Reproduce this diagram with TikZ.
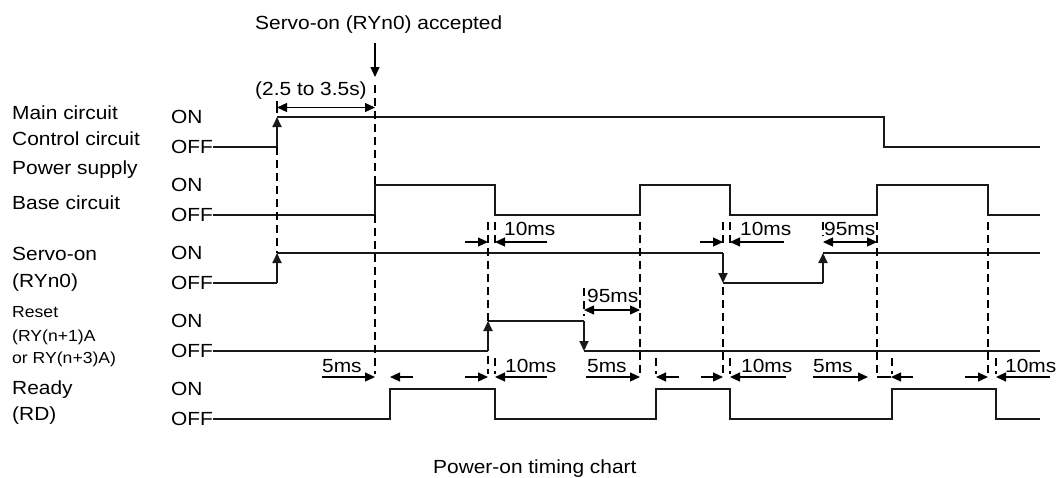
\documentclass[tikz,border=0pt]{standalone}
\usepackage{fontspec}
\setmainfont{Liberation Sans}[FakeStretch=1.1]
\usetikzlibrary{arrows.meta}
\begin{document}
\begin{tikzpicture}[x=1pt,y=-1pt,
  >={Triangle[length=10pt,width=9pt]},
  sig/.style={line width=1.8pt, line join=miter, color=black!90},
  dsh/.style={line width=1.2pt, dash pattern=on 8pt off 5pt},
  dim/.style={line width=1.2pt},
  lbl/.style={anchor=base west, inner sep=0pt, font=\fontsize{19}{22}\selectfont},
  sml/.style={anchor=base west, inner sep=0pt, font=\fontsize{16}{19}\selectfont},
  lvl/.style={anchor=west, inner sep=0pt, font=\fontsize{19}{22}\selectfont}]
\useasboundingbox (0,0) rectangle (1058,477);

% ---- left labels ----
\node[lbl] (lmain) at (12,119.3) {Main circuit};
\node[lbl] (lctrl) at (12,145.7) {Control circuit};
\node[lbl] (lpow) at (12,174.7) {Power supply};
\node[lbl] (lbase) at (12,209.7) {Base circuit};
\node[lbl] (lservo) at (12,260) {Servo-on};
\node[lbl] (lservo2) at (12,287) {(RYn0)};
\node[sml] (lreset) at (12,317.5) {Reset};
\node[sml] (lreset2) at (12,341.5) {(RY(n+1)A};
\node[sml] (lreset3) at (12,363.8) {or RY(n+3)A)};
\node[lbl] (lready) at (12,394.7) {Ready};
\node[lbl] (lready2) at (12,420.7) {(RD)};

% ON / OFF levels
\foreach \on/\off [count=\i] in {117/147,185/215,253/283,321/351,389/419}{
  \node[lvl] (on\i) at (171,\on) {ON};
  \node[lvl] (off\i) at (171,\off) {OFF};
}

% ---- top annotations ----
\node[lbl] (acc) at (255,29) {Servo-on (RYn0) accepted};
\draw[dim,->] (375,43) -- (375,77);
\node[lbl] (dur) at (255,95) {(2.5 to 3.5s)};
\draw[dim] (277,101) -- (277,113);
\draw[dim,<->] (277,107.5) -- (375,107.5);

% ---- signals ----
% Main / control circuit power supply
\draw[sig] (213,147) -- (277,147);
\draw[sig,->] (277,147) -- (277,117);
\draw[sig] (277,117) -- (884,117) -- (884,147) -- (1040,147);
% Base circuit
\draw[sig] (213,215) -| (375,185) -| (495,215) -| (640,185) -| (730,215) -| (877,185) -| (988,215) -- (1040,215);
% Servo-on
\draw[sig] (213,283) -- (277,283);
\draw[sig,->] (277,283) -- (277,253);
\draw[sig] (277,253) -- (723,253);
\draw[sig,->] (723,253) -- (723,283);
\draw[sig] (723,283) -- (823,283);
\draw[sig,->] (823,283) -- (823,253);
\draw[sig] (823,253) -- (1040,253);
% Reset
\draw[sig] (213,351) -- (488,351);
\draw[sig,->] (488,351) -- (488,321);
\draw[sig] (488,321) -- (584,321);
\draw[sig,->] (584,321) -- (584,351);
\draw[sig] (584,351) -- (1040,351);
% Ready
\draw[sig] (213,419) -| (390,389) -| (495,419) -| (656,389) -| (730,419) -| (892,389) -| (996,419) -- (1040,419);

% ---- dashed guide lines ----
\draw[dsh] (277,147) -- (277,253);
\draw[dsh] (375,85) -- (375,185);
\draw[dsh] (375,215) -- (375,374);
\draw[dsh] (488,222) -- (488,321);
\draw[dsh] (488,356) -- (488,374);
\draw[dsh] (495,222) -- (495,246);
\draw[dsh] (495,358) -- (495,374);
\draw[dsh] (584,288) -- (584,316);
\draw[dsh] (640,222) -- (640,374);
\draw[dsh] (656,358) -- (656,374);
\draw[dsh] (723,222) -- (723,246);
\draw[dsh] (723,287) -- (723,374);
\draw[dsh] (730,222) -- (730,246);
\draw[dsh] (730,358) -- (730,374);
\draw[dsh] (823,222) -- (823,236);
\draw[dsh] (877,222) -- (877,374);
\draw[dsh] (892,358) -- (892,374);
\draw[dsh] (988,222) -- (988,374);
\draw[dsh] (996,358) -- (996,374);

% ---- timing dimensions (upper row) ----
\node[lbl] (d1) at (504,235) {10ms};
\draw[dim,->] (465,242) -- (488,242);
\draw[dim,->] (547,242) -- (495,242);
\node[lbl] (d2) at (740,235) {10ms};
\draw[dim,->] (700,242) -- (723,242);
\draw[dim,->] (784,242) -- (730,242);
\node[lbl] (d3) at (824,235) {95ms};
\draw[dim,<->] (823,242) -- (877,242);
% reset 95ms
\node[lbl] (d4) at (587,302.5) {95ms};
\draw[dim,<->] (584,310) -- (640,310);

% ---- timing dimensions (lower row) ----
\node[lbl] (e1) at (322,372) {5ms};
\draw[dim,->] (322,377) -- (375,377);
\draw[dim,->] (413,377) -- (390,377);
\node[lbl] (e2) at (505,372) {10ms};
\draw[dim,->] (465,377) -- (488,377);
\draw[dim,->] (547,377) -- (495,377);
\node[lbl] (e3) at (587,372) {5ms};
\draw[dim,->] (586,377) -- (640,377);
\draw[dim,->] (679,377) -- (656,377);
\node[lbl] (e4) at (741,372) {10ms};
\draw[dim,->] (701,377) -- (723,377);
\draw[dim,->] (786,377) -- (730,377);
\node[lbl] (e5) at (813,372) {5ms};
\draw[dim,->] (813,377) -- (868,377);
\draw[dim,->] (913,377) -- (891,377);
\draw[dim] (891,377) -- (877,377);
\node[lbl] (e6) at (1005,372) {10ms};
\draw[dim,->] (965,377) -- (988,377);
\draw[dim,->] (1050,377) -- (996,377);

% ---- caption ----
\node[lbl] (cap) at (433,473.5) {Power-on timing chart};
\end{tikzpicture}
\end{document}
